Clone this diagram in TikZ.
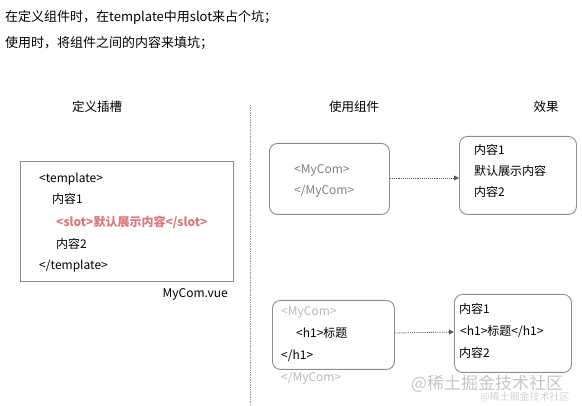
\documentclass[tikz,border=0pt]{standalone}
\usepackage{fontspec}
\setmainfont{Noto Sans CJK SC}
\usepackage{xcolor}
\usetikzlibrary{arrows.meta,positioning}
\definecolor{slotred}{HTML}{D9787A}
\definecolor{boxgray}{HTML}{8C8C8C}

\begin{document}
\begin{tikzpicture}[x=1pt, y=-1pt,
    every node/.style={font=\fontsize{12}{14}\selectfont, inner sep=0pt},
    line/.style={anchor=west},
    head/.style={font=\fontsize{12.5}{14}\selectfont},
    box/.style={draw=boxgray, line width=0.9pt, anchor=north west},
    rbox/.style={box, rounded corners=8pt},
    arr/.style={-{Triangle[length=5pt,width=5pt]}, densely dotted, line width=0.9pt, draw=gray!70!black},
    sep/.style={densely dotted, line width=0.7pt, draw=gray!80}
]
\useasboundingbox (0,0) rectangle (582,406);

% Intro text
\node[line, font=\fontsize{13}{15}\selectfont] (intro1) at (5,17) {在定义组件时，在template中用slot来占个坑；};
\node[line, font=\fontsize{13}{15}\selectfont] (intro2) at (5,43) {使用时，将组件之间的内容来填坑；};

% Headings
\node[head] (hdef) at (97,107) {定义插槽};
\node[head] (huse) at (354,107) {使用组件};
\node[head] (hres) at (546,107) {效果};

% Separator
\coordinate (septop) at (250,105);
\coordinate (sepbot) at (250,406);
\draw[sep] (septop) -- (sepbot);

% Component definition
\node[box, minimum width=213pt, minimum height=120pt] (defbox) at (20,161) {};
\node[line] (tplopen) at (39,179) {<template>};
\node[line] (defc1) at (52,199) {内容1};
\node[line, text=slotred, font=\fontsize{12}{14}\selectfont\bfseries] (slot) at (56,222) {<slot>默认展示内容</slot>};
\node[line] (defc2) at (56,244) {内容2};
\node[line] (tplclose) at (39,266) {</template>};
\node[anchor=east] (file) at (228,294) {MyCom.vue};

% Usage without content
\node[rbox, minimum width=120pt, minimum height=71pt] (use1) at (269,143) {};
\node[line, text=gray] (use1open) at (294,170) {<MyCom>};
\node[line, text=gray] (use1close) at (294,191) {</MyCom>};

\node[rbox, minimum width=117pt, minimum height=78pt] (res1) at (459,136) {};
\node[line] (res1a) at (474,150) {内容1};
\node[line] (res1b) at (474,171) {默认展示内容};
\node[line] (res1c) at (474,192) {内容2};

% Usage with content
\node[rbox, minimum width=122pt, minimum height=69pt] (use2) at (272,300) {};
\node[line, text=gray!55] (use2open) at (281,312) {<MyCom>};
\node[line] (use2h) at (296,333) {<h1>标题};
\node[line] (use2close) at (281,356) {</h1>};
\node[line, text=gray!55] (use2end) at (281,378) {</MyCom>};

\node[rbox, minimum width=117pt, minimum height=78pt] (res2) at (454,294) {};
\node[line] (res2a) at (459,309) {内容1};
\node[line] (res2b) at (460,332) {<h1>标题</h1>};
\node[line] (res2c) at (459,353) {内容2};

% Connections
\draw[arr] (use1.east |- 0,178) -- (res1.west |- 0,178);
\draw[arr] (use2.east |- 0,333) -- (res2.west |- 0,332);

% Watermark
\node[text=gray!45, font=\fontsize{17}{19}\selectfont] (wm) at (487,384) {@稀土掘金技术社区};
\node[text=gray!35, font=\fontsize{10}{12}\selectfont] (wm2) at (525,397) {@稀土掘金技术社区};

\end{tikzpicture}
\end{document}
